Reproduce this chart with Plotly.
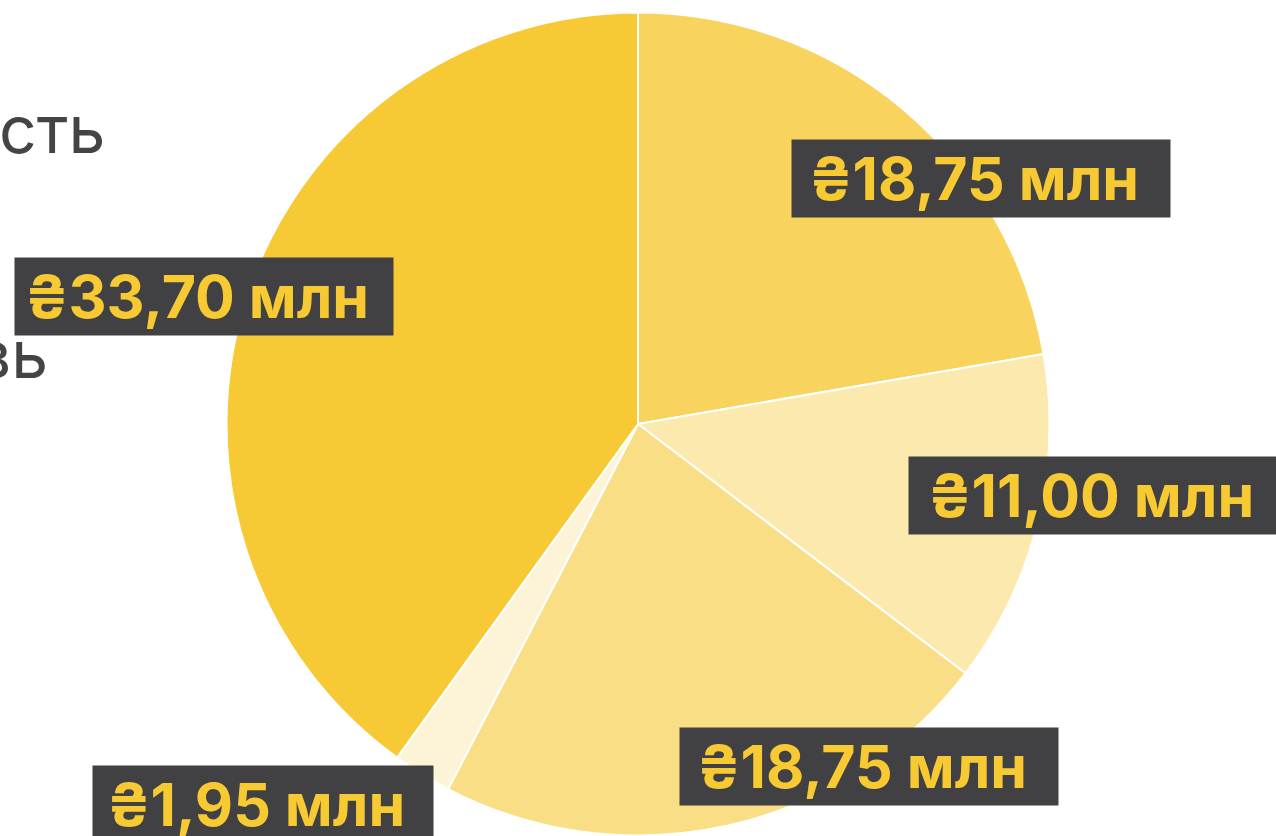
import plotly.graph_objects as go

# slice values in millions of hryvnia, clockwise from 12 o'clock
values = [18.75, 11.00, 18.75, 1.95, 33.70]
colors = ['#F8D45E', '#FCE9AD', '#F9DE86', '#FDF3D7', '#F6C935']

# where the value boxes sit (paper coords) and how wide each box is
label_x = [0.7688, 0.8605, 0.6810, 0.2061, 0.1599]
label_y = [0.7865, 0.4067, 0.0837, 0.0377, 0.6459]
label_w = [378, 378, 378, 340, 378]

# fragments of neighbouring labels that show at the left edge
side_text = ['сть', 'вь']
side_x = [0.0839, 0.0392]
side_y = [0.8457, 0.5766]

W, H = 1276, 836


def fmt(v):
    return ('₴%.2f млн' % v).replace('.', ',')


fig = go.Figure(go.Pie(
    values=values,
    marker=dict(colors=colors, line=dict(color='white', width=2)),
    sort=False,
    direction='clockwise',
    rotation=0,
    textinfo='none',
    hoverinfo='skip',
    showlegend=False,
    domain=dict(x=[226.5 / W, 1049.5 / W], y=[0, 824 / H]),
))

annotations = []
for v, x, y, w in zip(values, label_x, label_y, label_w):
    annotations.append(dict(
        text='<b>' + fmt(v) + '\u00a0</b>',
        x=x, y=y, xref='paper', yref='paper',
        xanchor='center', yanchor='middle',
        showarrow=False,
        width=w, height=77, borderpad=0,
        bgcolor='#414042',
        font=dict(family='Inter, Noto Sans, sans-serif', size=59, color='#F7CA33'),
    ))

for t, x, y in zip(side_text, side_x, side_y):
    annotations.append(dict(
        text=t, x=x, y=y, xref='paper', yref='paper',
        xanchor='right', yanchor='middle', showarrow=False,
        font=dict(family='Inter, Noto Sans, sans-serif', size=66, color='#444444'),
    ))

fig.update_layout(
    width=W, height=H,
    margin=dict(l=0, r=0, t=0, b=0),
    paper_bgcolor='white',
    plot_bgcolor='white',
    annotations=annotations,
)

# the chart fills the window edge to edge, so drop the page's default margin
fig.write_html('out.html', config={'displayModeBar': False},
               post_script="document.body.style.margin = '0';")
